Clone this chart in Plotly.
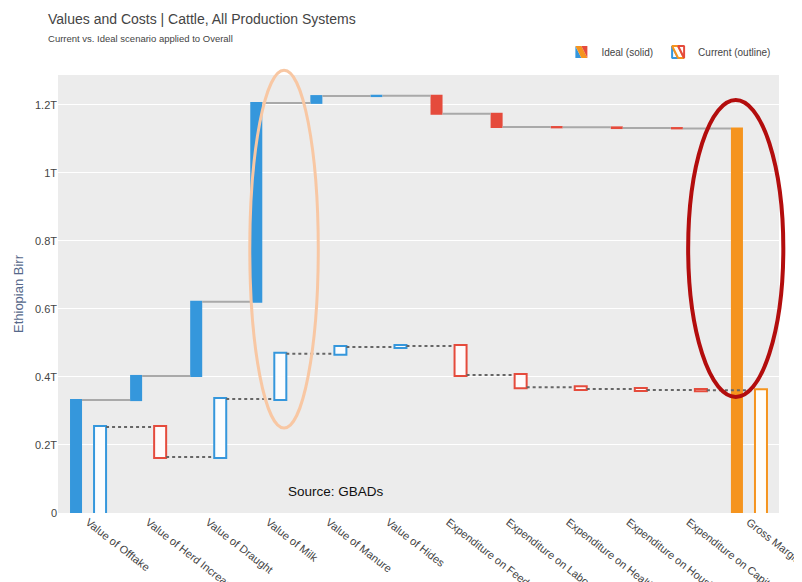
import plotly.graph_objects as go

categories = ["Value of Offtake", "Value of Herd Increase", "Value of Draught", "Value of Milk",
              "Value of Manure", "Value of Hides", "Expenditure on Feed", "Expenditure on Labour",
              "Expenditure on Health", "Expenditure on Housing", "Expenditure on Capital", "Gross Margin"]
measures = ["relative"] * 11 + ["total"]
ideal_values = [0.332e12, 0.071e12, 0.218e12, 0.585e12, 0.020e12, 0.001e12,
                -0.053e12, -0.039e12, -0.001e12, -0.002e12, -0.001e12, 0]
current_values = [0.253e12, -0.088e12, 0.170e12, 0.133e12, 0.020e12, 0.003e12,
                  -0.085e12, -0.036e12, -0.005e12, -0.003e12, -0.001e12, 0]
y_tickvals = [0, 0.2e12, 0.4e12, 0.6e12, 0.8e12, 1.0e12, 1.2e12]
y_ticktext = ["0", "0.2T", "0.4T", "0.6T", "0.8T", "1T", "1.2T"]

BLUE = "#3597dc"
RED = "#e54b3c"
ORANGE = "#f5941e"

fig = go.Figure()
fig.add_trace(go.Waterfall(
    name="Ideal (solid)", x=categories, y=ideal_values, measure=measures,
    offsetgroup="ideal",
    increasing=dict(marker=dict(color=BLUE, line=dict(width=0))),
    decreasing=dict(marker=dict(color=RED, line=dict(width=0))),
    totals=dict(marker=dict(color=ORANGE, line=dict(width=0))),
    connector=dict(line=dict(color="#a9a9a9", width=2, dash="solid")),
    hoverinfo="x+y",
))
fig.add_trace(go.Waterfall(
    name="Current (outline)", x=categories, y=current_values, measure=measures,
    offsetgroup="current",
    increasing=dict(marker=dict(color="#fbfdff", line=dict(color=BLUE, width=2))),
    decreasing=dict(marker=dict(color="#fffafa", line=dict(color=RED, width=2))),
    totals=dict(marker=dict(color="#fffdf9", line=dict(color=ORANGE, width=2))),
    connector=dict(line=dict(color="#666666", width=2, dash="dot")),
    hoverinfo="x+y",
))

fig.add_shape(type="circle", xref="paper", yref="paper", x0=0.266, x1=0.361, y0=0.194, y1=1.011,
              line=dict(color="#f8c7a3", width=3), layer="above")
fig.add_shape(type="circle", xref="paper", yref="paper", x0=0.874, x1=1.006, y0=0.265, y1=0.943,
              line=dict(color="#b30d0d", width=4), layer="above")

fig.add_annotation(text="Source: GBADs", xref="x", yref="y", x=4.13, y=0.062e12,
                   showarrow=False, font=dict(size=13.5, color="#111111"))

fig.update_layout(
    width=794, height=574,
    margin=dict(l=50, r=23, t=67, b=69, autoexpand=False),
    paper_bgcolor="white", plot_bgcolor="#ececec",
    font=dict(family="Liberation Sans, Arial, sans-serif", color="#444444", size=11),
    title=dict(
        text="Values and Costs | Cattle, All Production Systems<br><span style='font-size:9.5px'>Current vs. Ideal scenario applied to Overall</span>",
        x=0.0504, xanchor="left", y=0.972, yanchor="top",
        font=dict(size=14, color="#444444"),
    ),
    waterfallmode="group", waterfallgap=0.2, waterfallgroupgap=0.5,
    showlegend=True,
    legend=dict(orientation="h", x=0.995, xanchor="right", y=1.0525, yanchor="middle",
                font=dict(size=10, color="#444444"), bgcolor="rgba(0,0,0,0)",
                itemwidth=30, tracegroupgap=0),
    xaxis=dict(tickangle=38, automargin=False, showgrid=False, ticks="",
               tickfont=dict(size=11, color="#444444")),
    yaxis=dict(range=[0, 1.288e12], tickvals=y_tickvals, ticktext=y_ticktext,
               gridcolor="white", gridwidth=1, zeroline=False,
               title=dict(text="Ethiopian Birr", font=dict(size=13, color="#56688a"), standoff=8),
               tickfont=dict(size=11, color="#444444"), automargin=False),
)

fig.write_html("out.html")
